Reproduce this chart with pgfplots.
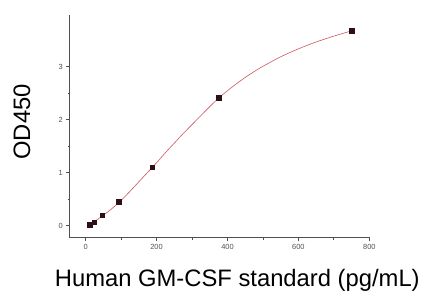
\documentclass[border=0pt]{standalone}
\usepackage{pgfplots}
\pgfplotsset{compat=1.18}
\usepackage{fontspec}
\setmainfont{Liberation Sans}
\definecolor{fitred}{RGB}{205,85,95}
\definecolor{axgray}{RGB}{80,80,80}
\definecolor{markdark}{RGB}{45,15,20}
\begin{document}
\begin{tikzpicture}
\begin{axis}[
  name=ax,
  scale only axis,
  width=302bp, height=224bp,
  xmin=-45, xmax=802,
  ymin=-0.225, ymax=3.98,
  axis x line*=bottom,
  axis y line*=left,
  axis line style={axgray, line width=0.9pt},
  xtick={0,200,400,600,800},
  ytick={0,1,2,3},
  minor x tick num=1,
  minor y tick num=1,
  tick align=outside,
  major tick length=3.5bp,
  minor tick length=2bp,
  tick style={axgray, line width=0.8pt},
  every tick label/.append style={font=\fontsize{7.5}{8}\selectfont, text=axgray},
  /pgf/number format/assume math mode=true,
  xlabel={Human GM-CSF standard (pg/mL)},
  ylabel={OD450},
  xlabel style={at={(axis description cs:0.558,0)}, anchor=base, yshift=-49bp, font=\fontsize{24}{28}\selectfont},
  ylabel style={at={(axis description cs:-0.159,0.52)}, anchor=center, font=\fontsize{24}{28}\selectfont},
  clip=false,
]
\addplot[fitred, line width=0.6pt, smooth, no marks] coordinates {
  (11.7,0.02) (25,0.08) (50,0.20) (75,0.33) (100,0.48) (125,0.65) (150,0.83)
  (175,1.01) (200,1.19) (225,1.38) (250,1.56) (275,1.74) (300,1.91) (325,2.08)
  (350,2.25) (375,2.41) (400,2.55) (425,2.68) (450,2.80) (475,2.91) (500,3.01)
  (550,3.19) (600,3.34) (650,3.47) (700,3.58) (750,3.68)
};
\addplot[only marks, mark=square*, mark size=2.2bp, mark options={fill=markdark, draw=markdark}] coordinates {
  (11.7,0.02) (23.4,0.07) (46.9,0.20) (93.75,0.456) (187.5,1.11) (375,2.42) (750,3.68)
};
\end{axis}
\path[use as bounding box] ([shift={(-70bp,-52bp)}]ax.south west) rectangle ++(423bp,291bp);
\end{tikzpicture}
\end{document}
